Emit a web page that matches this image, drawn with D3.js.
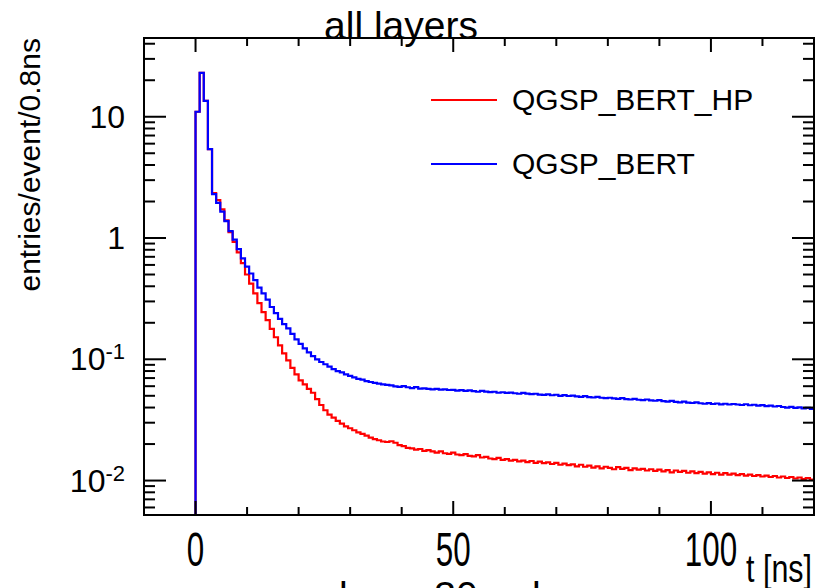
<!DOCTYPE html>
<html>
<head>
<meta charset="utf-8">
<script src="https://cdn.jsdelivr.net/npm/d3@7"></script>
<style>
  body { margin: 0; background: #fff; }
  svg { display: block; }
  text { font-family: "Liberation Sans", Arial, Helvetica, sans-serif; fill: #000; }
</style>
</head>
<body>
<svg id="chart" width="818" height="588"></svg>
<script>
//
// Data: entries/event per 0.8 ns bin, bins start at t = 0
//

const binWidth = 0.8;

const seriesNames = ["QGSP_BERT_HP", "QGSP_BERT"];
const seriesColors = ["#ff0000", "#0000ff"];

// QGSP_BERT_HP (red)
const hpValues = [
  11, 23, 13.5, 5.4, 2.35, 2.05, 1.72, 1.40, 1.12, 0.93,
  0.76, 0.62, 0.50, 0.42, 0.35, 0.29, 0.245, 0.21, 0.178, 0.152,
  0.130, 0.112, 0.098, 0.085, 0.075, 0.067, 0.062, 0.057, 0.053, 0.047,
  0.042, 0.038, 0.035, 0.033, 0.031, 0.0295, 0.028, 0.027, 0.026, 0.025,
  0.0243, 0.0235, 0.0226, 0.0220, 0.0215, 0.0210, 0.0208, 0.0211, 0.0205, 0.0196,
  0.0192, 0.0186, 0.0184, 0.0180, 0.0182, 0.0176, 0.0178, 0.0174, 0.0170, 0.0174,
  0.0168, 0.0166, 0.0170, 0.0164, 0.0162, 0.0165, 0.0160, 0.0158, 0.0162, 0.0155,
  0.0157, 0.0152, 0.0150, 0.0154, 0.0148, 0.0150, 0.0146, 0.0148, 0.0144, 0.0146,
  0.0142, 0.0145, 0.0140, 0.0143, 0.0139, 0.0141, 0.0137, 0.0140, 0.0135, 0.0138,
  0.0134, 0.0136, 0.0131, 0.0135, 0.0130, 0.0133, 0.0128, 0.0131, 0.0126, 0.0130,
  0.0127, 0.0124, 0.0129, 0.0125, 0.0127, 0.0122, 0.0126, 0.0123, 0.0125, 0.0121,
  0.0124, 0.0120, 0.0123, 0.0119, 0.0122, 0.0117, 0.0121, 0.0118, 0.0120, 0.0116,
  0.0119, 0.0115, 0.0118, 0.0114, 0.0117, 0.0113, 0.0116, 0.0112, 0.0115, 0.0112,
  0.0114, 0.0111, 0.0113, 0.0110, 0.0112, 0.0109, 0.0111, 0.0108, 0.0110, 0.0107,
  0.0109, 0.0106, 0.0108, 0.0105, 0.0107, 0.0104, 0.0106, 0.0103, 0.0105, 0.0102,
];

// QGSP_BERT (blue)
const bertValues = [
  11, 23, 13.5, 5.4, 2.3, 1.95, 1.65, 1.38, 1.14, 0.97,
  0.81, 0.68, 0.58, 0.51, 0.45, 0.39, 0.35, 0.31, 0.27, 0.24,
  0.215, 0.195, 0.180, 0.162, 0.146, 0.134, 0.123, 0.114, 0.106, 0.100,
  0.095, 0.091, 0.087, 0.083, 0.080, 0.078, 0.075, 0.073, 0.071, 0.069,
  0.068, 0.066, 0.065, 0.064, 0.063, 0.062, 0.0615, 0.061, 0.0598, 0.0592,
  0.0600, 0.0588, 0.0578, 0.0590, 0.0572, 0.0575, 0.0570, 0.0565, 0.0570, 0.0562,
  0.0565, 0.0558, 0.0560, 0.0552, 0.0556, 0.0549, 0.0554, 0.0546, 0.0540, 0.0548,
  0.0542, 0.0536, 0.0540, 0.0530, 0.0535, 0.0528, 0.0532, 0.0525, 0.0520, 0.0528,
  0.0522, 0.0516, 0.0520, 0.0512, 0.0508, 0.0514, 0.0505, 0.0510, 0.0500, 0.0506,
  0.0498, 0.0502, 0.0494, 0.0490, 0.0496, 0.0488, 0.0484, 0.0490, 0.0482, 0.0478,
  0.0482, 0.0476, 0.0472, 0.0478, 0.0470, 0.0466, 0.0472, 0.0464, 0.0460, 0.0466,
  0.0458, 0.0455, 0.0460, 0.0452, 0.0448, 0.0454, 0.0446, 0.0442, 0.0448, 0.0440,
  0.0436, 0.0442, 0.0434, 0.0430, 0.0435, 0.0428, 0.0432, 0.0425, 0.0430, 0.0424,
  0.0428, 0.0424, 0.0420, 0.0426, 0.0418, 0.0422, 0.0415, 0.0419, 0.0411, 0.0415,
  0.0408, 0.0412, 0.0404, 0.0399, 0.0405, 0.0397, 0.0401, 0.0394, 0.0398, 0.0389,
];

const xMajorTicks = [0, 50, 100];
const xMinorTicks = [-10, 10, 20, 30, 40, 60, 70, 80, 90, 110, 120];
const yMajorTicks = [0.01, 0.1, 1, 10];
const yTickLabels = [["10", "-2"], ["10", "-1"], ["1", ""], ["10", ""]];

const title = "all layers";
const subTitle = "layer 30 only";
const xTitle = "t [ns]";
const yTitle = "entries/event/0.8ns";

//
// Layout
//

const frame = { left: 144, right: 814, top: 38, bottom: 515 };

const svg = d3.select("#chart");

const x = d3.scaleLinear().domain([-10, 120]).range([frame.left, frame.right]);
const y = d3
  .scaleLog()
  .domain([0.0052, 44.6])
  .range([frame.bottom, frame.top])
  .clamp(true);

// minor ticks 2..9 of every decade in range
const yMinorTicks = [];
[0.001, 0.01, 0.1, 1, 10].forEach((d) => {
  for (let k = 2; k <= 9; k++) {
    const v = d * k;
    if (v > y.domain()[0] && v < y.domain()[1]) yMinorTicks.push(v);
  }
});

//
// Histograms
//

function mkpoints(values) {
  // empty region before the first bin sits on the bottom of the frame
  const pts = [{ t: x.domain()[0], v: 0 }];
  values.forEach((v, i) => pts.push({ t: i * binWidth, v: v }));
  pts.push({ t: values.length * binWidth, v: values[values.length - 1] });
  return pts;
}

const histLine = d3
  .line()
  .x((d) => x(d.t))
  .y((d) => (d.v > 0 ? y(d.v) : frame.bottom))
  .curve(d3.curveStepAfter);

svg
  .append("clipPath")
  .attr("id", "clip")
  .append("rect")
  .attr("x", frame.left)
  .attr("y", frame.top)
  .attr("width", frame.right - frame.left)
  .attr("height", frame.bottom - frame.top);

svg
  .append("g")
  .attr("clip-path", "url(#clip)")
  .selectAll("path")
  .data([hpValues, bertValues])
  .enter()
  .append("path")
  .attr("d", (d) => histLine(mkpoints(d)))
  .attr("fill", "none")
  .attr("stroke", (d, i) => seriesColors[i])
  .attr("stroke-width", 2.2);

//
// Frame and ticks (inside, on all four sides)
//

const ticks = svg.append("g").attr("stroke", "#000").attr("stroke-width", 2);

function xticks(values, len) {
  values.forEach((v) => {
    ticks.append("line").attr("x1", x(v)).attr("x2", x(v))
      .attr("y1", frame.bottom).attr("y2", frame.bottom - len);
    ticks.append("line").attr("x1", x(v)).attr("x2", x(v))
      .attr("y1", frame.top).attr("y2", frame.top + len);
  });
}

function yticks(values, len) {
  values.forEach((v) => {
    ticks.append("line").attr("y1", y(v)).attr("y2", y(v))
      .attr("x1", frame.left).attr("x2", frame.left + len);
    ticks.append("line").attr("y1", y(v)).attr("y2", y(v))
      .attr("x1", frame.right).attr("x2", frame.right - len);
  });
}

xticks(xMajorTicks, 14);
xticks(xMinorTicks, 8);
yticks(yMajorTicks, 22);
yticks(yMinorTicks, 11);

svg
  .append("rect")
  .attr("x", frame.left)
  .attr("y", frame.top)
  .attr("width", frame.right - frame.left)
  .attr("height", frame.bottom - frame.top)
  .attr("fill", "none")
  .attr("stroke", "#000")
  .attr("stroke-width", 2);

//
// Labels
//

// x tick labels use a narrow, tall face like the original
svg
  .append("g")
  .selectAll("text")
  .data(xMajorTicks)
  .enter()
  .append("text")
  .attr("transform", (d) => `translate(${x(d)},566) scale(0.64,1)`)
  .attr("text-anchor", "middle")
  .style("font-size", "49px")
  .text((d) => d);

const ylab = svg
  .append("g")
  .selectAll("text")
  .data(yMajorTicks)
  .enter()
  .append("text")
  .attr("x", 125)
  .attr("y", (d) => y(d) + 11)
  .attr("text-anchor", "end")
  .style("font-size", "32px");
ylab.append("tspan").text((d, i) => yTickLabels[i][0]);
ylab
  .append("tspan")
  .attr("dy", -11)
  .style("font-size", "22px")
  .text((d, i) => yTickLabels[i][1]);

svg
  .append("text")
  .attr("transform", "translate(812,582) scale(0.8,1)")
  .attr("text-anchor", "end")
  .style("font-size", "38px")
  .text(xTitle);

svg
  .append("text")
  .attr("transform", `translate(40,${frame.top}) rotate(-90)`)
  .attr("text-anchor", "end")
  .style("font-size", "30px")
  .text(yTitle);

svg
  .append("text")
  .attr("x", 401)
  .attr("y", 39)
  .attr("text-anchor", "middle")
  .style("font-size", "39px")
  .text(title);

// next pad's title, only the tops of its tall letters show at the bottom edge
svg
  .append("text")
  .attr("x", 339)
  .attr("y", 609)
  .style("font-size", "39px")
  .text(subTitle);

//
// Legend
//

const legend = svg
  .append("g")
  .selectAll("g")
  .data(seriesNames)
  .enter()
  .append("g")
  .attr("transform", (d, i) => `translate(431,${100 + i * 64})`);

legend
  .append("line")
  .attr("x1", 0)
  .attr("x2", 66)
  .attr("stroke", (d, i) => seriesColors[i])
  .attr("stroke-width", 2);

legend
  .append("text")
  .attr("x", 81)
  .attr("y", 10)
  .style("font-size", "30px")
  .text((d) => d);
</script>
</body>
</html>
